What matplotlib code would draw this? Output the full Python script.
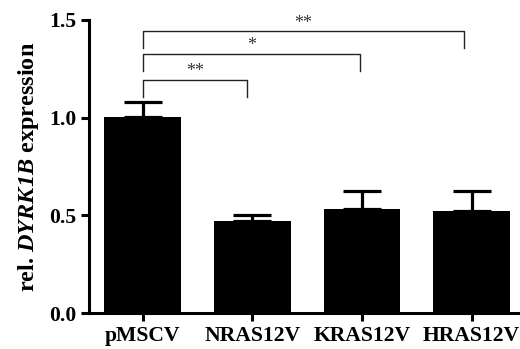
import matplotlib
matplotlib.use("Agg")
import matplotlib.pyplot as plt

groups = ["pMSCV", "NRAS12V", "KRAS12V", "HRAS12V"]
means = [1.005, 0.471, 0.531, 0.521]
errors = [0.077, 0.032, 0.094, 0.102]

# significance brackets: (left x, right x, bar height, drop height, label)
brackets = [
    (0, 0.95, 1.195, 1.106, "**"),
    (0, 1.98, 1.328, 1.239, "*"),
    (0, 2.93, 1.445, 1.358, "**"),
]

plt.rcParams["font.family"] = ["Liberation Serif", "DejaVu Serif"]
plt.rcParams["mathtext.fontset"] = "custom"
plt.rcParams["mathtext.rm"] = "Liberation Serif:italic:bold"
plt.rcParams["mathtext.it"] = "Liberation Serif:italic:bold"

fig = plt.figure(figsize=(5.2, 3.49), dpi=100)
ax = fig.add_axes([0.171, 0.103, 0.829, 0.84])

x = list(range(len(groups)))
ax.bar(x, means, width=0.7, color="black", zorder=2)
ax.errorbar(x, means, yerr=[[0] * len(errors), errors], fmt="none",
            ecolor="black", elinewidth=2.3, capsize=14, capthick=2.3, zorder=1)

for x0, x1, yb, yd, lab in brackets:
    ax.plot([x0, x0, x1, x1], [yd, yb, yb, yd], color="#222222", lw=1.0,
            clip_on=False)
    ax.text((x0 + x1) / 2, yb - 0.005, lab, ha="center", va="bottom",
            fontsize=13, color="#333333")

ax.set_xlim(-0.49, 3.44)
ax.set_ylim(0, 1.5)
ax.set_yticks([0.0, 0.5, 1.0, 1.5])
ax.set_yticklabels(["0.0", "0.5", "1.0", "1.5"])
ax.set_xticks(x)
ax.set_xticklabels(groups)
for lab in ax.get_xticklabels() + ax.get_yticklabels():
    lab.set_fontweight("bold")
    lab.set_fontsize(15.6)
ax.tick_params(width=2.2, length=6, pad=3)

for side in ["top", "right"]:
    ax.spines[side].set_visible(False)
for side in ["left", "bottom"]:
    ax.spines[side].set_linewidth(2.2)

ax.set_ylabel(r"rel. $DYRK1B$ expression", fontsize=17.5,
              fontweight="bold", labelpad=6)

fig.savefig("out.png", dpi=100)
